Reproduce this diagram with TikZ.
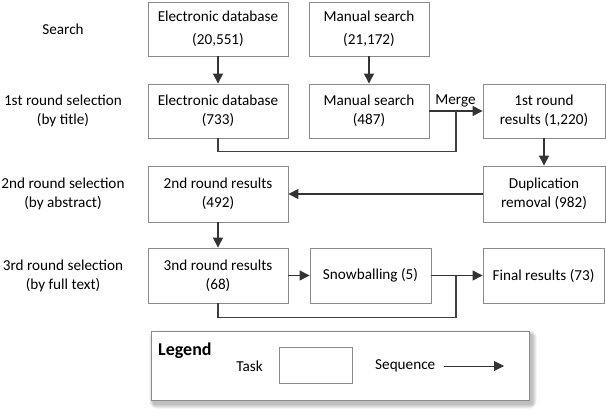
\documentclass[tikz,border=0pt]{standalone}
\usepackage{fontspec}
\setmainfont{Carlito}
\usetikzlibrary{arrows.meta,positioning}
\tikzset{
  task/.style={draw=boxgray, line width=0.9pt, fill=white, align=center, inner sep=0pt,
    font=\fontsize{15.2}{19}\selectfont},
  lbl/.style={align=center, font=\fontsize{15.2}{18.5}\selectfont},
  conn/.style={draw=linegray, line width=1.3pt},
  seq/.style={conn, -{Triangle[length=10pt,width=10pt]}, black!80},
}
\definecolor{boxgray}{HTML}{8A8A8A}
\definecolor{linegray}{HTML}{404040}
\begin{document}
\begin{tikzpicture}[x=1pt,y=-1pt]
\useasboundingbox (0,0) rectangle (607,412);
% stage labels
\node[lbl] (s0) at (63,29) {Search};
\node[lbl] (s1) at (63,111) {1st round selection\\(by title)};
\node[lbl] (s2) at (63,194) {2nd round selection\\(by abstract)};
\node[lbl] (s3) at (63,276) {3rd round selection\\(by full text)};
% tasks
\node[task, minimum width=140pt, minimum height=54pt] (ed1) at (218,29) {Electronic database\\[4pt](20,551)};
\node[task, minimum width=120pt, minimum height=54pt] (ms1) at (369,29) {Manual search\\[4pt](21,172)};
\node[task, minimum width=140pt, minimum height=54pt] (ed2) at (218,111) {Electronic database\\(733)};
\node[task, minimum width=120pt, minimum height=54pt] (ms2) at (369,111) {Manual search\\(487)};
\node[task, minimum width=122pt, minimum height=54pt] (r1) at (544,111) {1st round\\results (1,220)};
\node[task, minimum width=122pt, minimum height=56pt] (dup) at (544,194) {Duplication\\removal (982)};
\node[task, minimum width=140pt, minimum height=56pt] (r2) at (218,194) {2nd round results\\(492)};
\node[task, minimum width=140pt, minimum height=55pt] (r3) at (218,275.5) {3nd round results\\(68)};
\node[task, minimum width=121pt, minimum height=55pt] (snow) at (370.5,275.5) {Snowballing (5)};
\node[task, minimum width=121pt, minimum height=55pt] (fin) at (543.5,275.5) {Final results (73)};
% junctions
\coordinate (mj) at (456,111);
\coordinate (sj) at (456,275.5);
% connectors
\draw[seq] (ed1) -- (ed2);
\draw[seq] (ms1) -- (ms2);
\draw[seq] (ms2) -- node[above, text=black, font=\fontsize{15.2}{17}\selectfont, pos=0.49, yshift=0pt] {Merge} (r1);
\draw[conn] (ed2.south) -- ++(0,13) -| (mj);
\draw[seq] (r1) -- (dup);
\draw[seq] (dup) -- (r2);
\draw[seq] (r2) -- (r3);
\draw[seq] (r3) -- (snow);
\draw[seq] (snow) -- (fin);
\draw[conn] (r3.south) -- ++(0,14) -| (sj);
% legend with soft shadow
\foreach \i in {1,...,8}
  \fill[black, opacity=0.035, rounded corners=\i pt] (151+3-\i*0.6,331+4-\i*0.6) rectangle (529+3+\i*0.6,400+4+\i*0.6);
\node[draw=boxgray, line width=0.9pt, fill=white, minimum width=378pt, minimum height=69pt, inner sep=0pt] (leg) at (340,365.5) {};
\node[anchor=west, font=\fontsize{18}{20}\selectfont\bfseries, inner sep=0pt] (legt) at (158,351) {Legend};
\node[lbl, anchor=east, inner sep=0pt] (taskt) at (263,366) {Task};
\node[task, minimum width=73pt, minimum height=36pt] (taskb) at (315.5,365) {};
\node[lbl, anchor=west, inner sep=0pt] (seqt) at (375,366) {Sequence};
\coordinate (sa) at (444,366);
\coordinate (sb) at (504,366);
\draw[seq, line width=1pt] (sa) -- (sb);
\end{tikzpicture}
\end{document}
